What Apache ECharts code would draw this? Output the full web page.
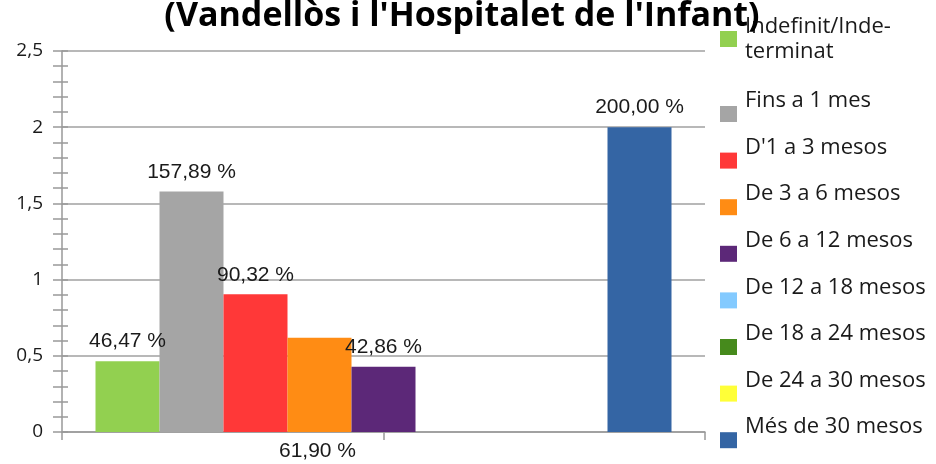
<!DOCTYPE html>
<html>
<head>
<meta charset="utf-8">
<script src="https://cdn.jsdelivr.net/npm/echarts@6/dist/echarts.min.js"></script>
<style>
html,body{margin:0;padding:0;background:#fff;}
#chart{width:936px;height:464px;}
</style>
</head>
<body>
<div id="chart"></div>
<script>
// dades
var titleText = "(Vandellòs i l'Hospitalet de l'Infant)";
var categories = [''];
var seriesNames = ['Indefinit/Inde-\nterminat', 'Fins a 1 mes', "D'1 a 3 mesos", 'De 3 a 6 mesos',
    'De 6 a 12 mesos', 'De 12 a 18 mesos', 'De 18 a 24 mesos', 'De 24 a 30 mesos', 'Més de 30 mesos'];
var seriesValues = [0.4647, 1.5789, 0.9032, 0.6190, 0.4286, 0, 0, 0, 2.0];
var seriesColors = ['#92d050', '#a5a5a5', '#ff3838', '#ff8c14', '#5c2878', '#83caff', '#468a1c', '#ffff38', '#3465a4'];
var yTicks = [0, 0.5, 1, 1.5, 2, 2.5];

var chart = echarts.init(document.getElementById('chart'));

function pct(p) {
    return (p.value * 100).toFixed(2).replace('.', ',') + ' %';
}

var series = [];
for (var i = 0; i < seriesNames.length; i++) {
    var lbl = {
        show: seriesValues[i] > 0,
        position: 'top',
        distance: 9,
        formatter: pct,
        color: '#1a1a1a',
        fontFamily: 'Liberation Sans',
        fontSize: 21
    };
    // l'etiqueta de 3 a 6 mesos queda sota l'eix
    if (i == 3) {
        lbl.position = ['50%', '100%'];
        lbl.align = 'center';
        lbl.verticalAlign = 'middle';
        lbl.offset = [-2, 19];
    }
    series.push({
        name: seriesNames[i],
        type: 'bar',
        data: [seriesValues[i]],
        barWidth: 64,
        barGap: '0%',
        itemStyle: { color: seriesColors[i] },
        label: lbl
    });
}

var legendText = {
    fontFamily: 'Open Sans',
    fontSize: 22,
    color: '#1a1a1a'
};

var option = {
    animation: false,
    backgroundColor: '#fff',
    title: {
        text: titleText,
        left: 457,
        top: -6,
        textAlign: 'center',
        textStyle: { fontFamily: 'Open Sans', fontWeight: 'bold', fontSize: 34, color: '#000' }
    },
    legend: [{
        orient: 'vertical',
        left: 720,
        top: 14,
        padding: 0,
        itemWidth: 17,
        itemHeight: 16,
        icon: 'rect',
        data: [seriesNames[0]],
        textStyle: Object.assign({}, legendText, { lineHeight: 25, padding: [0, 0, 0, 3] })
    }, {
        orient: 'vertical',
        left: 720,
        top: 88,
        height: 420,
        padding: 0,
        itemGap: -5.4,
        itemWidth: 17,
        itemHeight: 16,
        icon: 'rect',
        data: seriesNames.slice(1),
        // línia buida de sota: el text queda per sobre del quadret
        formatter: function (name) { return name + '\n '; },
        textStyle: Object.assign({}, legendText, { lineHeight: 26, padding: [0, 0, 0, 3] })
    }],
    grid: { left: 62, right: 231, top: 51, bottom: 32 },
    xAxis: [{
        type: 'category',
        data: categories,
        axisLine: { lineStyle: { color: '#999', width: 1.5 } },
        axisTick: { show: true, length: 8, lineStyle: { color: '#999', width: 1.5 } },
        axisLabel: { show: false }
    }, {
        type: 'category',
        position: 'bottom',
        data: ['a', 'b'],
        axisLine: { show: false },
        axisTick: { show: true, length: 8, lineStyle: { color: '#999', width: 1.5 } },
        axisLabel: { show: false }
    }],
    yAxis: [{
        type: 'value',
        min: yTicks[0],
        max: yTicks[yTicks.length - 1],
        interval: 0.5,
        position: 'left',
        axisLine: { show: true, lineStyle: { color: '#999', width: 1.5 } },
        axisTick: { show: true, length: 9, lineStyle: { color: '#999', width: 1.5 } },
        minorTick: { show: true, splitNumber: 5, length: 9, lineStyle: { color: '#999', width: 1.5 } },
        splitLine: { show: true, lineStyle: { color: '#a0a0a0', width: 1.5 } },
        axisLabel: {
            margin: 19,
            color: '#1a1a1a',
            fontFamily: 'Open Sans',
            fontSize: 19,
            formatter: function (v) { return String(v).replace('.', ','); }
        }
    }, {
        type: 'value',
        min: yTicks[0],
        max: yTicks[yTicks.length - 1],
        interval: 0.5,
        position: 'left',
        offset: 0,
        axisLine: { show: false },
        axisTick: { show: true, inside: true, length: 6, lineStyle: { color: '#999', width: 1.5 } },
        minorTick: { show: true, splitNumber: 5, length: 6, lineStyle: { color: '#999', width: 1.5 } },
        splitLine: { show: false },
        axisLabel: { show: false }
    }],
    series: series
};

chart.setOption(option);
</script>
</body>
</html>
